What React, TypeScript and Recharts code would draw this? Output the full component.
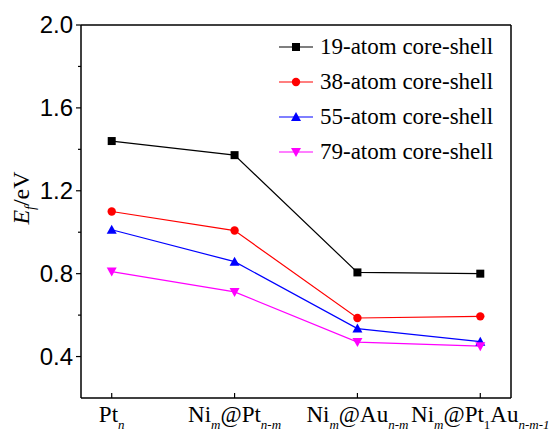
import React from "react";
import { LineChart, Line, XAxis, YAxis, Legend, ReferenceLine } from "recharts";

// category labels, subscripts written as _{...}
const categories = ["Pt_{n}", "Ni_{m}@Pt_{n-m}", "Ni_{m}@Au_{n-m}", "Ni_{m}@Pt_{1}Au_{n-m-1}"];

const atom19 = [1.44, 1.372, 0.806, 0.8];
const atom38 = [1.1, 1.008, 0.586, 0.594];
const atom55 = [1.012, 0.858, 0.535, 0.472];
const atom79 = [0.81, 0.712, 0.47, 0.45];

const yTicks = [0.4, 0.6, 0.8, 1.0, 1.2, 1.4, 1.6, 1.8, 2.0];
const yMajor = [0.4, 0.8, 1.2, 1.6, 2.0];

const series = [
  { key: "s19", name: "19-atom core-shell", color: "#000000", shape: "square", values: atom19 },
  { key: "s38", name: "38-atom core-shell", color: "#ff0000", shape: "circle", values: atom38 },
  { key: "s55", name: "55-atom core-shell", color: "#0000ff", shape: "up", values: atom55 },
  { key: "s79", name: "79-atom core-shell", color: "#ff00ff", shape: "down", values: atom79 }
];

const data = categories.map((c, i) => {
  const row: Record<string, number> = { x: i };
  series.forEach((s) => {
    row[s.key] = s.values[i];
  });
  return row;
});

const SERIF = "'Liberation Serif', 'Times New Roman', serif";
const SANS = "'Liberation Sans', Arial, sans-serif";

function Marker({ cx, cy, shape, color }: { cx: number; cy: number; shape: string; color: string }) {
  if (shape === "square") {
    return <rect x={cx - 4} y={cy - 4} width={8} height={8} fill={color} />;
  }
  if (shape === "circle") {
    return <circle cx={cx} cy={cy} r={4.2} fill={color} />;
  }
  if (shape === "up") {
    return <path d={`M${cx},${cy - 5} L${cx + 5},${cy + 4} L${cx - 5},${cy + 4} Z`} fill={color} />;
  }
  return <path d={`M${cx},${cy + 5} L${cx + 5},${cy - 4} L${cx - 5},${cy - 4} Z`} fill={color} />;
}

function parseLabel(s: string) {
  const parts: { text: string; sub: boolean }[] = [];
  const re = /_\{([^}]*)\}/g;
  let last = 0;
  let m;
  while ((m = re.exec(s)) !== null) {
    if (m.index > last) parts.push({ text: s.slice(last, m.index), sub: false });
    parts.push({ text: m[1], sub: true });
    last = m.index + m[0].length;
  }
  if (last < s.length) parts.push({ text: s.slice(last), sub: false });
  return parts;
}

function XTick(props: any) {
  const { x, y, payload } = props;
  const parts = parseLabel(categories[payload.value] ?? "");
  let shifted = false;
  return (
    <g>
      <line x1={x} x2={x} y1={y} y2={y - 5} stroke="#000" strokeWidth={1.2} />
      <text x={x} y={y + 24} textAnchor="middle" fontFamily={SERIF} fontSize={23} fill="#000">
        {parts.map((p, i) => {
          let dy = 0;
          if (p.sub && !shifted) {
            dy = 7;
            shifted = true;
          } else if (!p.sub && shifted) {
            dy = -7;
            shifted = false;
          }
          return (
            <tspan
              key={i}
              dy={dy}
              fontSize={p.sub ? 13 : 23}
              fontStyle={p.sub && /[a-z]/.test(p.text) ? "italic" : "normal"}
            >
              {p.text}
            </tspan>
          );
        })}
      </text>
    </g>
  );
}

function YTick(props: any) {
  const { x, y, payload } = props;
  const major = yMajor.some((v) => Math.abs(v - payload.value) < 1e-6);
  return (
    <g>
      <line x1={x - (major ? 5 : 3)} x2={x} y1={y} y2={y} stroke="#000" strokeWidth={1.2} />
      {major ? (
        <text x={x - 8} y={y} dy="0.35em" textAnchor="end" fontFamily={SANS} fontSize={24} fill="#000">
          {payload.value.toFixed(1)}
        </text>
      ) : null}
    </g>
  );
}

function YLabel(props: any) {
  const { viewBox } = props;
  const cx = viewBox.x + 8;
  const cy = 198;
  return (
    <text
      x={cx}
      y={cy}
      transform={`rotate(-90, ${cx}, ${cy})`}
      textAnchor="middle"
      fontFamily={SERIF}
      fontSize={24}
      fill="#000"
    >
      <tspan fontStyle="italic">E</tspan>
      <tspan fontStyle="italic" fontSize={14} dy={6}>f</tspan>
      <tspan dy={-6}>/eV</tspan>
    </text>
  );
}

function LegendBox() {
  return (
    <div>
      {series.map((s) => (
        <div key={s.key} style={{ display: "flex", alignItems: "center", height: 35 }}>
          <svg width={34} height={16} style={{ overflow: "visible" }}>
            <line x1={0} x2={34} y1={8} y2={8} stroke={s.color} strokeWidth={1.2} />
            <Marker cx={17} cy={8} shape={s.shape} color={s.color} />
          </svg>
          <span
            style={{
              fontFamily: SERIF,
              fontSize: 23,
              marginLeft: 7,
              color: "#000",
              whiteSpace: "nowrap",
              lineHeight: "35px"
            }}
          >
            {s.name}
          </span>
        </div>
      ))}
    </div>
  );
}

export default function App() {
  return (
    <div style={{ position: "fixed", left: 0, top: 0, width: 551, height: 433, background: "#fff" }}>
      <LineChart width={551} height={433} data={data} margin={{ top: 25, right: 40, left: 21, bottom: 0 }}>
        <XAxis
          dataKey="x"
          type="number"
          domain={[-0.25, 3.25]}
          ticks={[0, 1, 2, 3]}
          interval={0}
          height={35}
          tickSize={0}
          tickMargin={0}
          tickLine={false}
          axisLine={{ stroke: "#000", strokeWidth: 1.5 }}
          tick={<XTick />}
        />
        <YAxis
          type="number"
          domain={[0.2, 2.0]}
          ticks={yTicks}
          interval={0}
          width={60}
          tickSize={0}
          tickMargin={0}
          tickLine={false}
          axisLine={{ stroke: "#000", strokeWidth: 1.5 }}
          tick={<YTick />}
          label={{ content: <YLabel /> }}
        />
        <ReferenceLine y={2.0} stroke="#000" strokeWidth={1.5} />
        <ReferenceLine x={3.25} stroke="#000" strokeWidth={1.5} />
        <Legend
          layout="vertical"
          align="center"
          verticalAlign="middle"
          wrapperStyle={{ top: 29, left: 279, width: 240 }}
          content={<LegendBox />}
        />
        {series.map((s) => (
          <Line
            key={s.key}
            dataKey={s.key}
            name={s.name}
            type="linear"
            stroke={s.color}
            strokeWidth={1.2}
            isAnimationActive={false}
            dot={(p: any) => <Marker key={`${s.key}-${p.index}`} cx={p.cx} cy={p.cy} shape={s.shape} color={s.color} />}
            activeDot={false}
          />
        ))}
      </LineChart>
    </div>
  );
}
